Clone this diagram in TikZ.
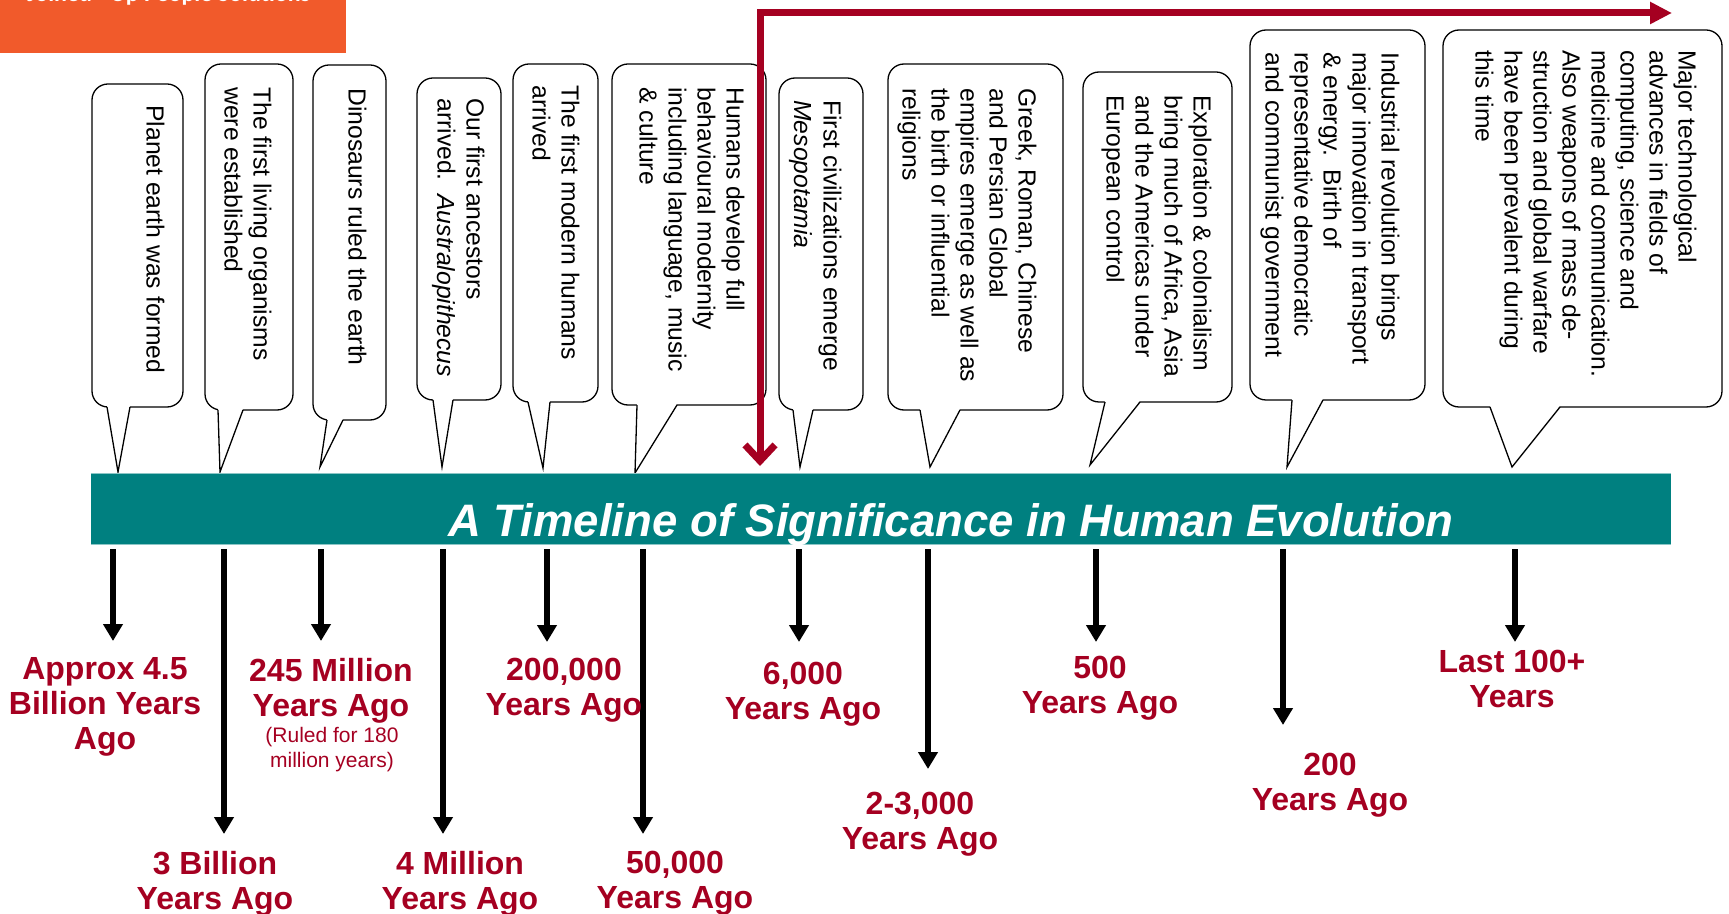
\documentclass[tikz,border=0pt]{standalone}
\usepackage{fontspec}
\setmainfont{Liberation Sans}
\newfontfamily\logofont{Carlito}
\usetikzlibrary{arrows.meta}
\definecolor{tlred}{HTML}{A50021}
\definecolor{tlteal}{HTML}{008080}
\definecolor{tledge}{HTML}{8CC6C6}
\definecolor{tlorange}{HTML}{F15A2B}
\tikzset{
  bubble/.style={draw=black, line width=0.65pt, fill=white, rounded corners=8pt},
  ptrline/.style={draw=black, line width=0.65pt, line join=miter},
  ctext/.style={rotate=-90, anchor=north west, align=left, inner sep=0pt,
    font=\fontsize{12.35}{14.5}\selectfont},
  lab/.style={anchor=north, align=center, inner sep=0pt, text=tlred,
    font=\bfseries\fontsize{16}{17.5}\selectfont},
  sublab/.style={anchor=north, align=center, inner sep=0pt, text=tlred,
    font=\fontsize{10.5}{12.5}\selectfont},
  tlarrow/.style={line width=3.3pt, -{Triangle[length=8.5pt,width=9.5pt]}},
  redarrow/.style={draw=tlred, line width=3.5pt, line join=miter,
    {Straight Barb[length=8pt,width=15pt]}-{Triangle[length=11pt,width=10.5pt]}},
}
% #1 L, #2 R, #3 T, #4 B, #5 base-left x, #6 base-right x, #7 tip x, #8 tip y
\newcommand\tlbubble[8]{%
  \draw[bubble] (#1,#3) rectangle (#2,#4);
  \fill[white] (#5,{#4-1.2}) -- (#7,#8) -- (#6,{#4-1.2}) -- cycle;
  \draw[ptrline] (#5,#4) -- (#7,#8) -- (#6,#4);
}
\begin{document}
\begin{tikzpicture}[x=0.5pt,y=-0.5pt]
\useasboundingbox (0,0) rectangle (1729,914);
\clip (0,0) rectangle (1729,914);

% logo strip
\fill[tlorange] (0,0) rectangle (346,53);
\node[anchor=base west, inner sep=0pt, text=white, font=\logofont\bfseries\fontsize{12}{14}\selectfont] (logo) at (27,1.5) {Joined - Up People Solutions};

% callouts
\tlbubble{92}{183}{84}{407}{107}{130}{118}{472}
\tlbubble{205}{293}{64}{410}{218}{243}{220}{472}
\tlbubble{313}{386}{65}{420}{327}{343}{320}{467}
\tlbubble{417}{501}{78}{400}{433}{453}{442}{467}
\tlbubble{513}{598}{64}{402}{528}{550}{543}{468}
\tlbubble{612}{766}{64}{405}{637}{677}{635}{473}
\tlbubble{779}{863}{78}{410}{793}{813}{800}{467}
\tlbubble{888}{1063}{64}{410}{920}{960}{930}{467}
\tlbubble{1083}{1232}{72}{402}{1105}{1140}{1090}{465}
\tlbubble{1250}{1425}{30}{400}{1292}{1323}{1287}{467}
\tlbubble{1443}{1722}{30}{407}{1490}{1560}{1512}{467}

\node[ctext] (c1) at (165,105) {Planet earth was formed};
\node[ctext] (c2) at (272,87) {The first living organisms\\were established};
\node[ctext] (c3) at (367,88) {Dinosaurs ruled the earth};
\node[ctext] (c4) at (485,98) {Our first ancestors\\arrived.\ \ \textit{Australopithecus}};
\node[ctext] (c5) at (580,85) {The first modern humans\\arrived};
\node[ctext] (c6) at (745,87) {Humans develop full\\behavioural modernity\\including language, music\\\& culture};
\node[ctext] (c7) at (842,100) {First civilizations emerge\\\textit{Mesopotamia}};
\node[ctext] (c8) at (1037,88) {Greek, Roman, Chinese\\and Persian Global\\empires emerge as well as\\the birth or influential\\religions};
\node[ctext] (c9) at (1212,95) {Exploration \& colonialism\\bring much of Africa, Asia\\and the Americas under\\European control};
\node[ctext] (c10) at (1400,52) {Industrial revolution brings\\major innovation in transport\\\& energy.\ \ Birth of\\representative democratic\\and communist government};
\node[ctext] (c11) at (1697,50) {Major technological\\advances in fields of\\computing, science and\\medicine and communication.\\Also weapons of mass de-\\struction and global warfare\\have been prevalent during\\this time};

% timeline bar
\node[fill=tlteal, draw=none, inner sep=0pt, minimum width=790pt, minimum height=35pt] (bar) at (881,509) {};
\draw[tledge, line width=0.6pt] (bar.north west) -- (bar.north east);
\draw[tledge, line width=0.6pt] (bar.south west) -- (bar.south east);
\node[anchor=base west, inner sep=0pt, text=white, font=\bfseries\itshape\fontsize{22.75}{26}\selectfont] (title) at (448,536) {A Timeline of Significance in Human Evolution};

% red arrow
\coordinate (rs) at (760,466);
\coordinate (rc) at (760,13);
\coordinate (re) at (1672,13);
\draw[redarrow] (rs) -- (rc) -- (re);

% black arrows
\foreach \i/\x/\y in {1/113/641, 2/224/834, 3/321/641, 4/443/834, 5/547/642, 6/643/834, 7/799/642, 8/928/769, 9/1096/642, 10/1283/725, 11/1515/642}{
  \coordinate (as\i) at (\x,549);
  \coordinate (ae\i) at (\x,\y);
  \draw[tlarrow] (as\i) -- (ae\i);
}

% labels
\node[lab] (l1) at (105,657) {Approx 4.5\\Billion Years\\Ago};
\node[lab] (l2) at (215,851) {3 Billion\\Years Ago};
\node[lab] (l3) at (331,658) {245 Million\\Years Ago};
\node[sublab] (l3b) at (332,727) {(Ruled for 180\\million years)};
\node[lab] (l4) at (564,658) {200,000\\Years Ago};
\node[lab] (l5) at (460,851) {4 Million\\Years Ago};
\node[lab] (l6) at (675,851) {50,000\\Years Ago};
\node[lab] (l7) at (803,662) {6,000\\Years Ago};
\node[lab] (l8) at (920,792) {2-3,000\\Years Ago};
\node[lab] (l9) at (1100,656) {500\\Years Ago};
\node[lab] (l10) at (1330,753) {200\\Years Ago};
\node[lab] (l11) at (1512,650) {Last 100+\\Years};
\end{tikzpicture}
\end{document}
